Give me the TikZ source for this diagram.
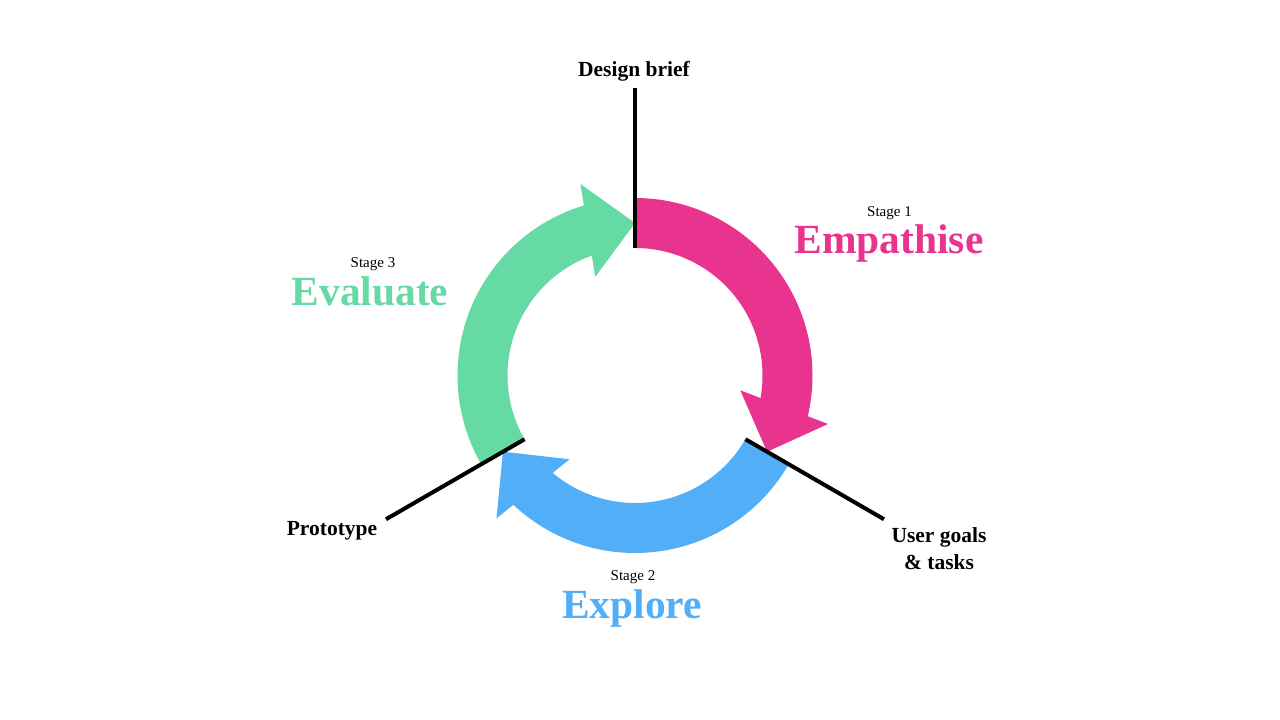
\documentclass[tikz,border=0pt]{standalone}
\usepackage{fontspec}
\setmainfont{Liberation Serif}
\definecolor{pinkc}{HTML}{E9348F}
\definecolor{greenc}{HTML}{66DAA4}
\definecolor{bluec}{HTML}{52AEF7}
\newcommand\cyclearrow[3]{%
  \pgfmathsetmacro\shaftend{#3+16}%
  \fill[#1] (#2:177.5pt) arc[start angle=#2, end angle=\shaftend, radius=177.5pt]
    -- (\shaftend:127.5pt) arc[start angle=\shaftend, end angle=#2, radius=127.5pt] -- cycle;
  \begin{scope}[rotate={#3+9}]
    \fill[#1] (103.6pt,23.9pt) -- (197.6pt,23.9pt) -- (150.6pt,-23.9pt) -- cycle;
  \end{scope}
}
\begin{document}
\begin{tikzpicture}[x=1pt,y=1pt,
  spoke/.style={line width=4pt,black},
  lbl/.style={font=\bfseries\fontsize{21.5}{25}\selectfont,anchor=base,inner sep=0pt},
  stagelbl/.style={font=\fontsize{15}{18}\selectfont,anchor=base,inner sep=0pt},
  biglbl/.style={font=\bfseries\fontsize{41.5}{48}\selectfont,anchor=base,inner sep=0pt}]
\fill[white] (0,0) rectangle (1280,720);
\useasboundingbox (0,0) rectangle (1280,720);
\begin{scope}[shift={(635,344.5)}]
  \cyclearrow{pinkc}{90}{-30}
  \cyclearrow{bluec}{330}{210}
  \cyclearrow{greenc}{210}{90}
  \coordinate (db0) at (90:127.5pt);
  \coordinate (db1) at (90:287.5pt);
  \coordinate (ug0) at (-30:127.5pt);
  \coordinate (ug1) at (-30:287.5pt);
  \coordinate (pt0) at (210:127.5pt);
  \coordinate (pt1) at (210:287.5pt);
  \draw[spoke] (db0) -- (db1);
  \draw[spoke] (ug0) -- (ug1);
  \draw[spoke] (pt0) -- (pt1);
\end{scope}
\node[lbl] (design) at (634,643) {Design brief};
\node[stagelbl] (s1) at (889.5,503) {Stage 1};
\node[biglbl,text=pinkc] (emp) at (889,466) {Empathise};
\node[stagelbl] (s3) at (373,452) {Stage 3};
\node[biglbl,text=greenc] (eval) at (370,414) {Evaluate};
\node[stagelbl] (s2) at (633,139) {Stage 2};
\node[biglbl,text=bluec] (expl) at (632,101) {Explore};
\node[lbl] (proto) at (332,184) {Prototype};
\node[lbl] (usera) at (939,177) {User goals};
\node[lbl] (userb) at (939,150) {\& tasks};
\end{tikzpicture}
\end{document}
